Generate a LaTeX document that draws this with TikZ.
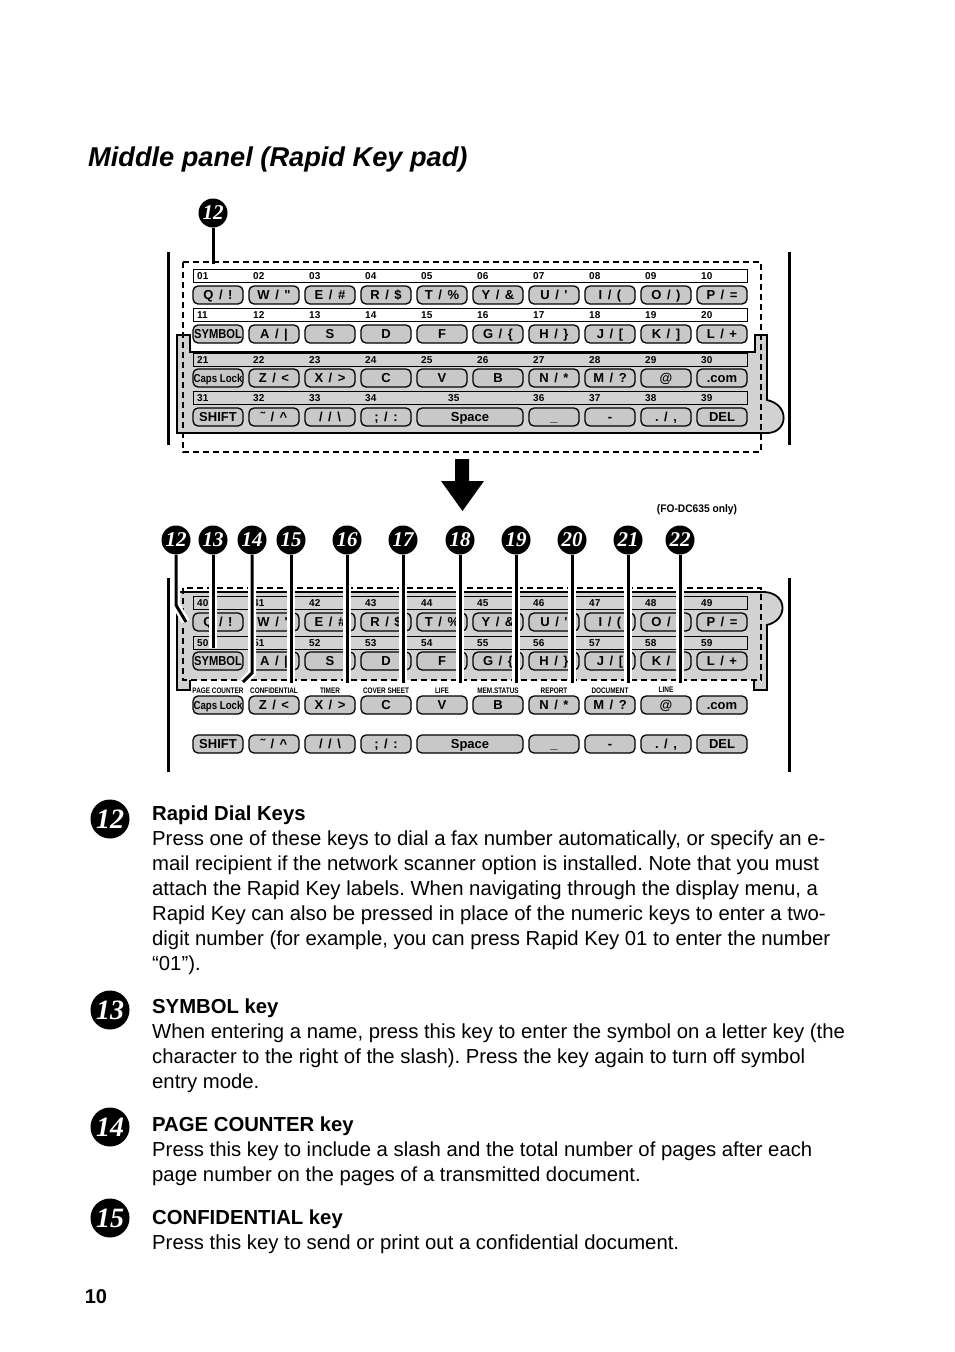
\documentclass[tikz,border=0pt]{standalone}
\usepackage{fontspec}
\setmainfont{Liberation Sans}
\newfontfamily\numfont{Liberation Serif}
\definecolor{panelgray}{HTML}{D2D2D2}
\definecolor{keygray}{HTML}{C8C8C8}
\frenchspacing
\tikzset{
 kbox/.style={draw, line width=1.3pt, fill=keygray, rounded corners=5pt, minimum width=50pt, minimum height=18pt, inner sep=0pt, text height=9.4pt, text depth=0pt, font=\fontsize{13}{13}\selectfont\bfseries, execute at begin node={\spaceskip=5.5pt\relax}},
 strip/.style={draw, line width=1pt},
 knum/.style={anchor=base west, inner sep=0pt, font=\fontsize{10}{10}\selectfont\bfseries},
 marker/.style={circle, fill=black, text=white, minimum size=29pt, inner sep=0pt, font=\numfont\fontsize{21}{21}\selectfont\bfseries\itshape},
 bigmarker/.style={circle, fill=black, text=white, minimum size=39pt, inner sep=0pt, font=\numfont\fontsize{28}{28}\selectfont\bfseries\itshape},
 leader/.style={line width=3pt},
 haloleader/.style={line width=3pt, preaction={draw=white, line width=8pt}},
 dashbox/.style={line width=2pt, dash pattern=on 6pt off 4pt},
 flabel/.style={inner sep=0pt, anchor=base, font=\fontsize{8}{8}\selectfont\bfseries},
 body/.style={anchor=base west, inner sep=0pt, font=\fontsize{20.3}{25}\selectfont},
 head/.style={anchor=base west, inner sep=0pt, font=\fontsize{20.3}{25}\selectfont\bfseries},
 frame/.style={line width=3pt},
 outline/.style={line width=1.8pt, line join=miter},
}
\newcommand\K[4]{\node[kbox] (#1) at (#2,#3) {#4};}
\newcommand\KeyRows[5]{%
\K{#1q}{218}{#2}{Q / !}\K{#1w}{274}{#2}{W / \textquotedbl}\K{#1e}{330}{#2}{E / \#}\K{#1r}{386}{#2}{R / \$}\K{#1t}{442}{#2}{T / \%}%
\K{#1y}{498}{#2}{Y / \&}\K{#1u}{554}{#2}{U / \textquotesingle}\K{#1i}{610}{#2}{I / (}\K{#1o}{666}{#2}{O / )}\K{#1p}{722}{#2}{P / =}%
\K{#1sym}{218}{#3}{\scalebox{0.86}[1]{SYMBOL}}\K{#1a}{274}{#3}{A / \textbar}\K{#1s}{330}{#3}{S}\K{#1d}{386}{#3}{D}\K{#1f}{442}{#3}{F}%
\K{#1g}{498}{#3}{G / \{}\K{#1h}{554}{#3}{H / \}}\K{#1j}{610}{#3}{J / [}\K{#1k}{666}{#3}{K / ]}\K{#1l}{722}{#3}{L / +}%
\K{#1caps}{218}{#4}{\fontsize{11.5}{11.5}\selectfont\spaceskip=0pt\relax\scalebox{0.84}[1]{Caps Lock}}\K{#1z}{274}{#4}{Z / <}\K{#1x}{330}{#4}{X / >}\K{#1c}{386}{#4}{C}\K{#1v}{442}{#4}{V}%
\K{#1b}{498}{#4}{B}\K{#1n}{554}{#4}{N / *}\K{#1m}{610}{#4}{M / ?}\K{#1at}{666}{#4}{@}\K{#1com}{722}{#4}{.com}%
\K{#1shift}{218}{#5}{SHIFT}\K{#1tilde}{274}{#5}{\symbol{"02DC} / \textasciicircum}\K{#1slash}{330}{#5}{/ / \textbackslash}\K{#1semi}{386}{#5}{; / :}%
\node[kbox, minimum width=106pt] (#1space) at (470,#5) {Space};%
\K{#1under}{554}{#5}{\_}\K{#1minus}{610}{#5}{-}\K{#1dot}{666}{#5}{. / ,}\K{#1del}{722}{#5}{DEL}%
}
\newcommand\NumRow[3]{\foreach \n [count=\c from 0] in {#3} {\node[knum] (#1\n) at ({197+56*\c},#2) {\n};}}
\begin{document}
\begin{tikzpicture}[x=1pt,y=-1pt]
\useasboundingbox (0,0) rectangle (954,1352);

\node[anchor=base west, inner sep=0pt, font=\fontsize{27.2}{27}\selectfont\bfseries\itshape] (title) at (88,166) {Middle panel (Rapid Key pad)};

% ---------- top keypad ----------
\fill[panelgray] (177,335) -- (190,335) -- (190,352) -- (755,352) -- (755,335) -- (767,335) -- (767,400) .. controls (790,405) and (788,432) .. (768,433) -- (177,433) -- cycle;
\draw[outline] (177,335) -- (190,335) -- (190,352) -- (755,352) -- (755,335) -- (767,335) -- (767,400) .. controls (790,405) and (788,432) .. (768,433) -- (177,433) -- cycle;
\draw[strip] (193,269.5) rectangle (747,282.5);
\draw[strip] (193,308) rectangle (747,321);
\draw[strip] (193,353) rectangle (747,366);
\draw[strip] (193,391) rectangle (747,404);
\NumRow{n}{279.5}{01,02,03,04,05,06,07,08,09,10}
\NumRow{n}{318}{11,12,13,14,15,16,17,18,19,20}
\NumRow{n}{363}{21,22,23,24,25,26,27,28,29,30}
\NumRow{n}{401}{31,32,33,34}
\node[knum] (n35) at (448,401) {35};
\node[knum] (n36) at (533,401) {36};
\node[knum] (n37) at (589,401) {37};
\node[knum] (n38) at (645,401) {38};
\node[knum] (n39) at (701,401) {39};
\KeyRows{t}{295}{334}{378}{417}
\draw[dashbox] (183,262) rectangle (761,452);
\draw[frame] (168,252) -- (168,445);
\draw[frame] (789,252) -- (789,445);
\node[marker] (m12) at (213,213) {12};
\coordinate (m12end) at (213,264);
\draw[leader] (m12.south) -- (m12end);

% ---------- arrow ----------
\fill (455,459) -- (469,459) -- (469,481) -- (484,481) -- (462.5,511) -- (441,481) -- (455,481) -- cycle;

\node[inner sep=0pt, font=\fontsize{11}{11}\selectfont\bfseries] (fonly) at (697,510) {\scalebox{0.93}[1]{(FO-DC635 only)}};

% ---------- bottom keypad ----------
\fill[panelgray] (177,592) -- (765,592) .. controls (788,594) and (788,620) .. (767,625) -- (767,690) -- (754,690) -- (754,680) -- (190,680) -- (190,690) -- (177,690) -- cycle;
\draw[outline] (754,680) -- (754,690) -- (767,690) -- (767,625) .. controls (788,620) and (788,594) .. (765,592) -- (177,592) -- (177,690) -- (190,690) -- (190,680);
\draw[strip] (193,596.5) rectangle (747,609.5);
\draw[strip] (193,636.5) rectangle (747,649.5);
\NumRow{b}{606.5}{40,41,42,43,44,45,46,47,48,49}
\NumRow{b}{646.5}{50,51,52,53,54,55,56,57,58,59}
\KeyRows{b}{622}{661}{705}{744}
\draw[dashbox] (183,588) rectangle (761,680);
\draw[frame] (168,578) -- (168,772);
\draw[frame] (789,578) -- (789,772);

\node[marker] (c12) at (176,540) {12};
\node[marker] (c13) at (213,540) {13};
\node[marker] (c14) at (252,540) {14};
\node[marker] (c15) at (291,540) {15};
\node[marker] (c16) at (347,540) {16};
\node[marker] (c17) at (403,540) {17};
\node[marker] (c18) at (460,540) {18};
\node[marker] (c19) at (516,540) {19};
\node[marker] (c20) at (572,540) {20};
\node[marker] (c21) at (628,540) {21};
\node[marker] (c22) at (680,540) {22};
\coordinate (e12a) at (176,605); \coordinate (e12) at (186,622);
\coordinate (e13) at (213,648);
\coordinate (e14a) at (252,673); \coordinate (e14) at (243,682);
\coordinate (e15) at (291,683);
\coordinate (e16) at (347,683);
\coordinate (e17) at (403,683);
\coordinate (e18) at (460,683);
\coordinate (e19) at (516,683);
\coordinate (e20) at (572,683);
\coordinate (e21) at (628,683);
\coordinate (e22) at (680,683);
\draw[haloleader] (c12.south) -- (e12a) -- (e12);
\draw[haloleader] (c13.south) -- (e13);
\draw[haloleader] (c14.south) -- (e14a) -- (e14);
\draw[haloleader] (c15.south) -- (e15);
\draw[haloleader] (c16.south) -- (e16);
\draw[haloleader] (c17.south) -- (e17);
\draw[haloleader] (c18.south) -- (e18);
\draw[haloleader] (c19.south) -- (e19);
\draw[haloleader] (c20.south) -- (e20);
\draw[haloleader] (c21.south) -- (e21);
\draw[haloleader] (c22.south) -- (e22);

\node[flabel] (f1) at (218,693) {\scalebox{0.8}[1]{PAGE COUNTER}};
\node[flabel] (f2) at (274,693) {\scalebox{0.8}[1]{CONFIDENTIAL}};
\node[flabel] (f3) at (330,693) {\scalebox{0.8}[1]{TIMER}};
\node[flabel] (f4) at (386,693) {\scalebox{0.8}[1]{COVER SHEET}};
\node[flabel] (f5) at (442,693) {\scalebox{0.8}[1]{LIFE}};
\node[flabel] (f6) at (498,693) {\scalebox{0.8}[1]{MEM.STATUS}};
\node[flabel] (f7) at (554,693) {\scalebox{0.8}[1]{REPORT}};
\node[flabel] (f8) at (610,693) {\scalebox{0.8}[1]{DOCUMENT}};
\node[flabel] (f9) at (666,692) {\scalebox{0.8}[1]{LINE}};

% ---------- descriptions ----------
\node[bigmarker] (d12) at (110,819) {12};
\node[head] (t12h) at (152,820) {Rapid Dial Keys};
\node[body] (t12a) at (152,845) {Press one of these keys to dial a fax number automatically, or specify an e-};
\node[body] (t12b) at (152,870) {mail recipient if the network scanner option is installed. Note that you must};
\node[body] (t12c) at (152,895) {attach the Rapid Key labels. When navigating through the display menu, a};
\node[body] (t12d) at (152,920) {Rapid Key can also be pressed in place of the numeric keys to enter a two-};
\node[body] (t12e) at (152,945) {digit number (for example, you can press Rapid Key 01 to enter the number};
\node[body] (t12f) at (152,970) {“01”).};

\node[bigmarker] (d13) at (110,1010) {13};
\node[head] (t13h) at (152,1013) {SYMBOL key};
\node[body] (t13a) at (152,1038) {When entering a name, press this key to enter the symbol on a letter key (the};
\node[body] (t13b) at (152,1063) {character to the right of the slash). Press the key again to turn off symbol};
\node[body] (t13c) at (152,1088) {entry mode.};

\node[bigmarker] (d14) at (110,1127) {14};
\node[head] (t14h) at (152,1131) {PAGE COUNTER key};
\node[body] (t14a) at (152,1156) {Press this key to include a slash and the total number of pages after each};
\node[body] (t14b) at (152,1181) {page number on the pages of a transmitted document.};

\node[bigmarker] (d15) at (110,1218) {15};
\node[head] (t15h) at (152,1224) {CONFIDENTIAL key};
\node[body] (t15a) at (152,1249) {Press this key to send or print out a confidential document.};

\node[anchor=base, inner sep=0pt, font=\fontsize{20}{20}\selectfont\bfseries] (pageno) at (96,1303) {10};
\end{tikzpicture}
\end{document}
